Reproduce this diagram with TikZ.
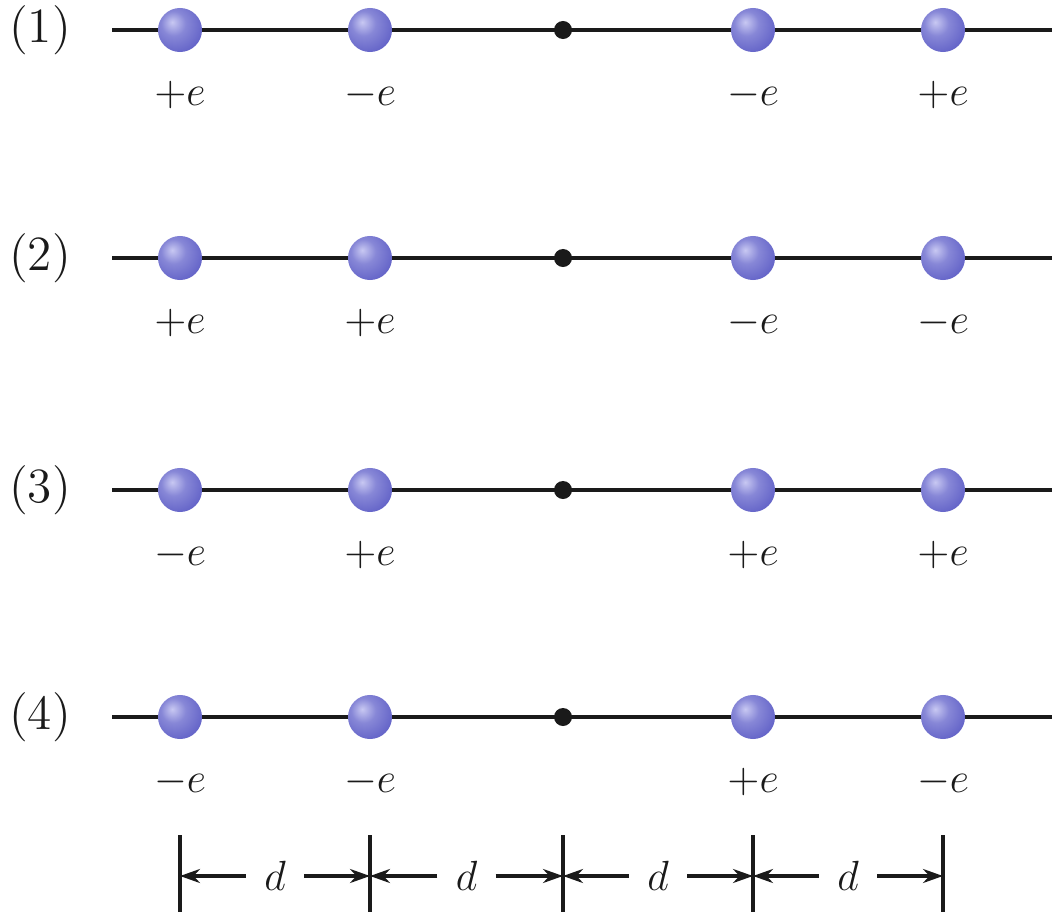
\documentclass[tikz,border=0pt]{standalone}
\usepackage{tikz}
\usetikzlibrary{arrows.meta,backgrounds,calc}
\definecolor{cBall}{HTML}{6464C8}
\definecolor{cBallHi}{HTML}{C8C8F2}
\definecolor{cBallLo}{HTML}{4E4EB4}
\definecolor{cInk}{HTML}{1A1A1A}
\pgfdeclareradialshading{chargeball}{\pgfpoint{-9bp}{9bp}}{%
  color(0bp)=(cBallHi); color(14bp)=(cBall!65!cBallHi);
  color(32bp)=(cBall); color(52bp)=(cBallLo); color(80bp)=(cBallLo)}
\tikzset{
  charge/.style   = {circle, inner sep=0pt, minimum size=4.4mm,
                     shade, shading=chargeball},
  origin/.style   = {circle, inner sep=0pt, minimum size=1.8mm, fill=cInk},
  axis/.style     = {draw=cInk, line width=0.9pt},
  qlab/.style     = {font=\fontsize{13}{15}\selectfont, text=cInk, inner sep=0pt},
  rowlab/.style   = {qlab, font=\fontsize{14}{16}\selectfont},
  tickline/.style = {draw=cInk, line width=0.9pt},
  dimlab/.style   = {qlab, inner xsep=5pt},
  dimarrow/.style = {-{Stealth[length=2mm,width=1.4mm]}, draw=cInk, line width=0.9pt},
}

\begin{document}
\begin{tikzpicture}[x=0.01cm, y=-0.01cm]
  \useasboundingbox (0,0) rectangle (1057,915);
  % four rows of charges, origin dot in the middle
  \foreach \r/\y/\qa/\qb/\qc/\qd in {1/30/+/-/-/+, 2/258/+/+/-/-,
                                     3/490/-/+/+/+, 4/717/-/-/+/-} {
    \node[rowlab] (row\r) at (40,\y) {(\r)};
    \coordinate (ax\r w) at (112,\y);
    \coordinate (ax\r e) at (1052,\y);
    \node[charge] (q\r a) at (180,\y) {};
    \node[charge] (q\r b) at (370,\y) {};
    \node[origin] (o\r)   at (563,\y) {};
    \node[charge] (q\r c) at (753,\y) {};
    \node[charge] (q\r d) at (943,\y) {};
    \node[qlab] (l\r a) at (180,\y+65) {$\qa e$};
    \node[qlab] (l\r b) at (370,\y+65) {$\qb e$};
    \node[qlab] (l\r c) at (753,\y+65) {$\qc e$};
    \node[qlab] (l\r d) at (943,\y+65) {$\qd e$};
    \begin{scope}[on background layer]
      \draw[axis] (ax\r w) -- (ax\r e);
    \end{scope}
  }
  % spacing d between neighbours
  \foreach \i/\x in {1/180, 2/370, 3/563, 4/753, 5/943} {
    \coordinate (tk\i) at (\x,876);
    \draw[tickline] (\x,835) -- (\x,912);
  }
  \foreach \i/\j in {1/2, 2/3, 3/4, 4/5} {
    \node[dimlab] (d\i) at ($(tk\i)!0.5!(tk\j)$) {$d$};
    \draw[dimarrow] (d\i.west) -- (tk\i);
    \draw[dimarrow] (d\i.east) -- (tk\j);
  }
\end{tikzpicture}
\end{document}
